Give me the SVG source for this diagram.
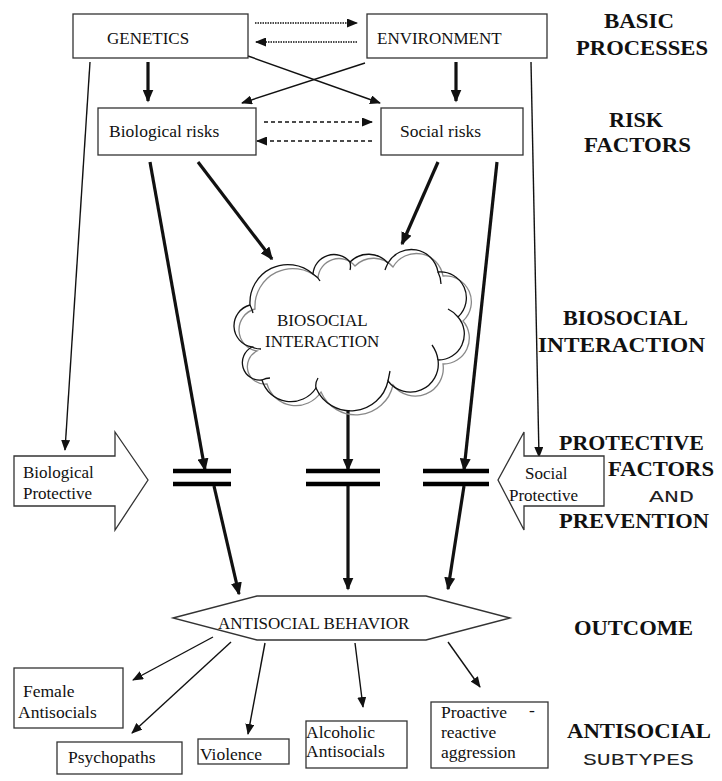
<svg xmlns="http://www.w3.org/2000/svg" width="722" height="781" viewBox="0 0 722 781" font-family="'Liberation Serif', 'DejaVu Serif', serif">
<style>
.bx{fill:#fff;stroke:#333;stroke-width:1.3}
.t{font-family:'Liberation Serif','DejaVu Serif',serif;font-size:17.5px;fill:#111}
.tc{font-family:'Liberation Serif','DejaVu Serif',serif;font-size:17px;fill:#111}
.lb{font-family:'Liberation Serif','DejaVu Serif',serif;font-size:20px;font-weight:bold;fill:#111}
.lm{font-family:'Liberation Mono','DejaVu Sans Mono',monospace;font-size:17px;fill:#222}
.thin{fill:none;stroke:#111;stroke-width:1.4;marker-end:url(#ah)}
.thick{fill:none;stroke:#111;stroke-width:3.2;marker-end:url(#ahT)}
.dot{fill:none;stroke:#111;stroke-width:1.3;stroke-dasharray:1.5 1;marker-end:url(#ah)}
.dash{fill:none;stroke:#111;stroke-width:1.3;stroke-dasharray:4 3;marker-end:url(#ah)}
.bar{stroke:#000;stroke-width:4.5}
.cl{fill:none;stroke:#111;stroke-width:1.3}
.clg{fill:none;stroke:#888;stroke-width:1.3}
</style>
<defs>
<marker id="ah" markerUnits="userSpaceOnUse" markerWidth="11" markerHeight="9" viewBox="0 0 11 9" refX="10" refY="4.5" orient="auto"><path d="M0,0 L11,4.5 L0,9 z" fill="#111"/></marker>
<marker id="ahT" markerUnits="userSpaceOnUse" markerWidth="13" markerHeight="11" viewBox="0 0 13 11" refX="11.5" refY="5.5" orient="auto"><path d="M0,0 L13,5.5 L0,11 z" fill="#111"/></marker>
</defs>
<rect width="722" height="781" fill="#fff"/>

<g id="connectors">
<path class="dot" d="M255,23 L357,23"/>
<path class="dot" d="M357,42 L256,42"/>
<path class="thick" d="M148,62 L148,101"/>
<path class="thick" d="M456,62 L456,101"/>
<path class="thin" d="M248,56 L380,103"/>
<path class="thin" d="M365,63 L242,103"/>
<path class="dash" d="M264,122 L372,122"/>
<path class="dash" d="M372,141 L257,141"/>
<path class="thin" d="M90,62 L65,450"/>
<path class="thin" d="M531,62 L539,457"/>
<path class="thick" d="M198,162 L272,259"/>
<path class="thick" d="M438,162 L402,244"/>
<path class="thick" d="M150,162 L205,470"/>
<path class="thick" d="M497,162 L464,470"/>
<path class="thick" d="M348,410 L348,470"/>
<path class="thick" d="M214,486 L239,594"/>
<path class="thick" d="M348,486 L348,589"/>
<path class="thick" d="M464,486 L448,589"/>
<path class="thin" d="M213,637 L133,680"/>
<path class="thin" d="M231,642 L132,733"/>
<path class="thin" d="M265,643 L248,734"/>
<path class="thin" d="M355,643 L363,707"/>
<path class="thin" d="M448,642 L480,687"/>
</g>

<g id="barriers">
<line class="bar" x1="173" y1="471" x2="231" y2="471"/>
<line class="bar" x1="173" y1="484" x2="231" y2="484"/>
<line class="bar" x1="306" y1="471" x2="380" y2="471"/>
<line class="bar" x1="306" y1="484" x2="380" y2="484"/>
<line class="bar" x1="423" y1="471" x2="489" y2="471"/>
<line class="bar" x1="423" y1="484" x2="489" y2="484"/>
</g>

<g id="genetics">
<rect class="bx" x="73" y="14" width="175" height="44"/>
<text class="tc" x="107" y="44">GENETICS</text>
</g>
<g id="environment">
<rect class="bx" x="367" y="14" width="180" height="44"/>
<text class="tc" x="377" y="44">ENVIRONMENT</text>
</g>
<g id="biological-risks">
<rect class="bx" x="98" y="108" width="158" height="47"/>
<text class="t" x="109" y="137">Biological risks</text>
</g>
<g id="social-risks">
<rect class="bx" x="381" y="108" width="142" height="47"/>
<text class="t" x="400" y="137">Social risks</text>
</g>

<g id="biosocial-interaction">
<g transform="translate(5,4)">
<path class="clg" d="M250,305 A38,38 0 0 1 313,274 A21,21 0 0 1 350,262 A26,26 0 0 1 388,263 A27,27 0 0 1 438,272 A26,26 0 0 1 458,317 A26,26 0 0 1 438,360 A28,28 0 0 1 388,381 A38,38 0 0 1 316,388 A30,30 0 0 1 262,380 A17.5,17.5 0 0 1 252,347 A21.5,21.5 0 0 1 250,305 Z"/>
</g>
<path class="cl" d="M250,305 A38,38 0 0 1 313,274 A21,21 0 0 1 350,262 A26,26 0 0 1 388,263 A27,27 0 0 1 438,272 A26,26 0 0 1 458,317 A26,26 0 0 1 438,360 A28,28 0 0 1 388,381 A38,38 0 0 1 316,388 A30,30 0 0 1 262,380 A17.5,17.5 0 0 1 252,347 A21.5,21.5 0 0 1 250,305 Z"/>
<path class="cl" d="M313,274 Q318,277 320,281 M350,262 Q351,267 350,270 M388,263 Q386,267 385,270 M438,272 Q441,278 441,284 M458,317 Q454,312 448,309 M438,360 Q437,352 432,345 M388,381 Q389,376 390,371 M316,388 Q315,383 318,378 M262,380 Q266,378 270,378 M252,347 Q256,349 261,349 M250,305 Q252,309 253,313"/>
<text class="tc" x="277" y="326">BIOSOCIAL</text>
<text class="tc" x="265" y="347">INTERACTION</text>
</g>

<g id="biological-protective">
<polygon class="bx" points="14,456 115,456 115,432 148,480 115,530 115,506 14,506"/>
<text class="tc" x="23" y="478">Biological</text>
<text class="tc" x="23" y="499">Protective</text>
</g>
<g id="social-protective">
<polygon class="bx" points="604,456 524,456 524,432 498,480 524,530 524,506 604,506"/>
<text class="tc" x="525" y="479">Social</text>
<text class="tc" x="509" y="501">Protective</text>
</g>

<g id="antisocial-behavior">
<polygon class="bx" points="173,618 257,596 426,596 510,618 426,640 257,640"/>
<text class="tc" x="218" y="629">ANTISOCIAL BEHAVIOR</text>
</g>

<g id="female-antisocials">
<rect class="bx" x="14" y="668" width="109" height="60"/>
<text class="t" x="23" y="697">Female</text>
<text class="t" x="18" y="718">Antisocials</text>
</g>
<g id="psychopaths">
<rect class="bx" x="57" y="742" width="125" height="32"/>
<text class="t" x="68" y="763">Psychopaths</text>
</g>
<g id="violence">
<rect class="bx" x="198" y="739" width="91" height="25"/>
<text class="t" x="200" y="760">Violence</text>
</g>
<g id="alcoholic-antisocials">
<rect class="bx" x="306" y="721" width="101" height="47"/>
<text class="t" x="306" y="738">Alcoholic</text>
<text class="t" x="306" y="757">Antisocials</text>
</g>
<g id="proactive-reactive">
<rect class="bx" x="431" y="702" width="117" height="66"/>
<text class="t" x="441" y="718">Proactive</text>
<text class="t" x="529" y="716">-</text>
<text class="t" x="441" y="738">reactive</text>
<text class="t" x="441" y="758">aggression</text>
</g>

<g id="level-labels">
<text class="lb" x="604" y="28" textLength="70" lengthAdjust="spacingAndGlyphs">BASIC</text>
<text class="lb" x="576" y="55" textLength="132" lengthAdjust="spacingAndGlyphs">PROCESSES</text>
<text class="lb" x="609" y="127" textLength="54" lengthAdjust="spacingAndGlyphs">RISK</text>
<text class="lb" x="584" y="152" textLength="107" lengthAdjust="spacingAndGlyphs">FACTORS</text>
<text class="lb" x="563" y="325" textLength="125" lengthAdjust="spacingAndGlyphs">BIOSOCIAL</text>
<text class="lb" x="538" y="352" textLength="167" lengthAdjust="spacingAndGlyphs">INTERACTION</text>
<text class="lb" x="559" y="450" textLength="145" lengthAdjust="spacingAndGlyphs">PROTECTIVE</text>
<text class="lb" x="608" y="476" textLength="106" lengthAdjust="spacingAndGlyphs">FACTORS</text>
<text class="lm" x="649" y="502" textLength="45" lengthAdjust="spacingAndGlyphs">AND</text>
<text class="lb" x="559" y="528" textLength="150" lengthAdjust="spacingAndGlyphs">PREVENTION</text>
<text class="lb" x="574" y="635" textLength="119" lengthAdjust="spacingAndGlyphs">OUTCOME</text>
<text class="lb" x="567" y="738" textLength="144" lengthAdjust="spacingAndGlyphs">ANTISOCIAL</text>
<text class="lm" x="583" y="765" textLength="111" lengthAdjust="spacingAndGlyphs">SUBTYPES</text>
</g>
</svg>
